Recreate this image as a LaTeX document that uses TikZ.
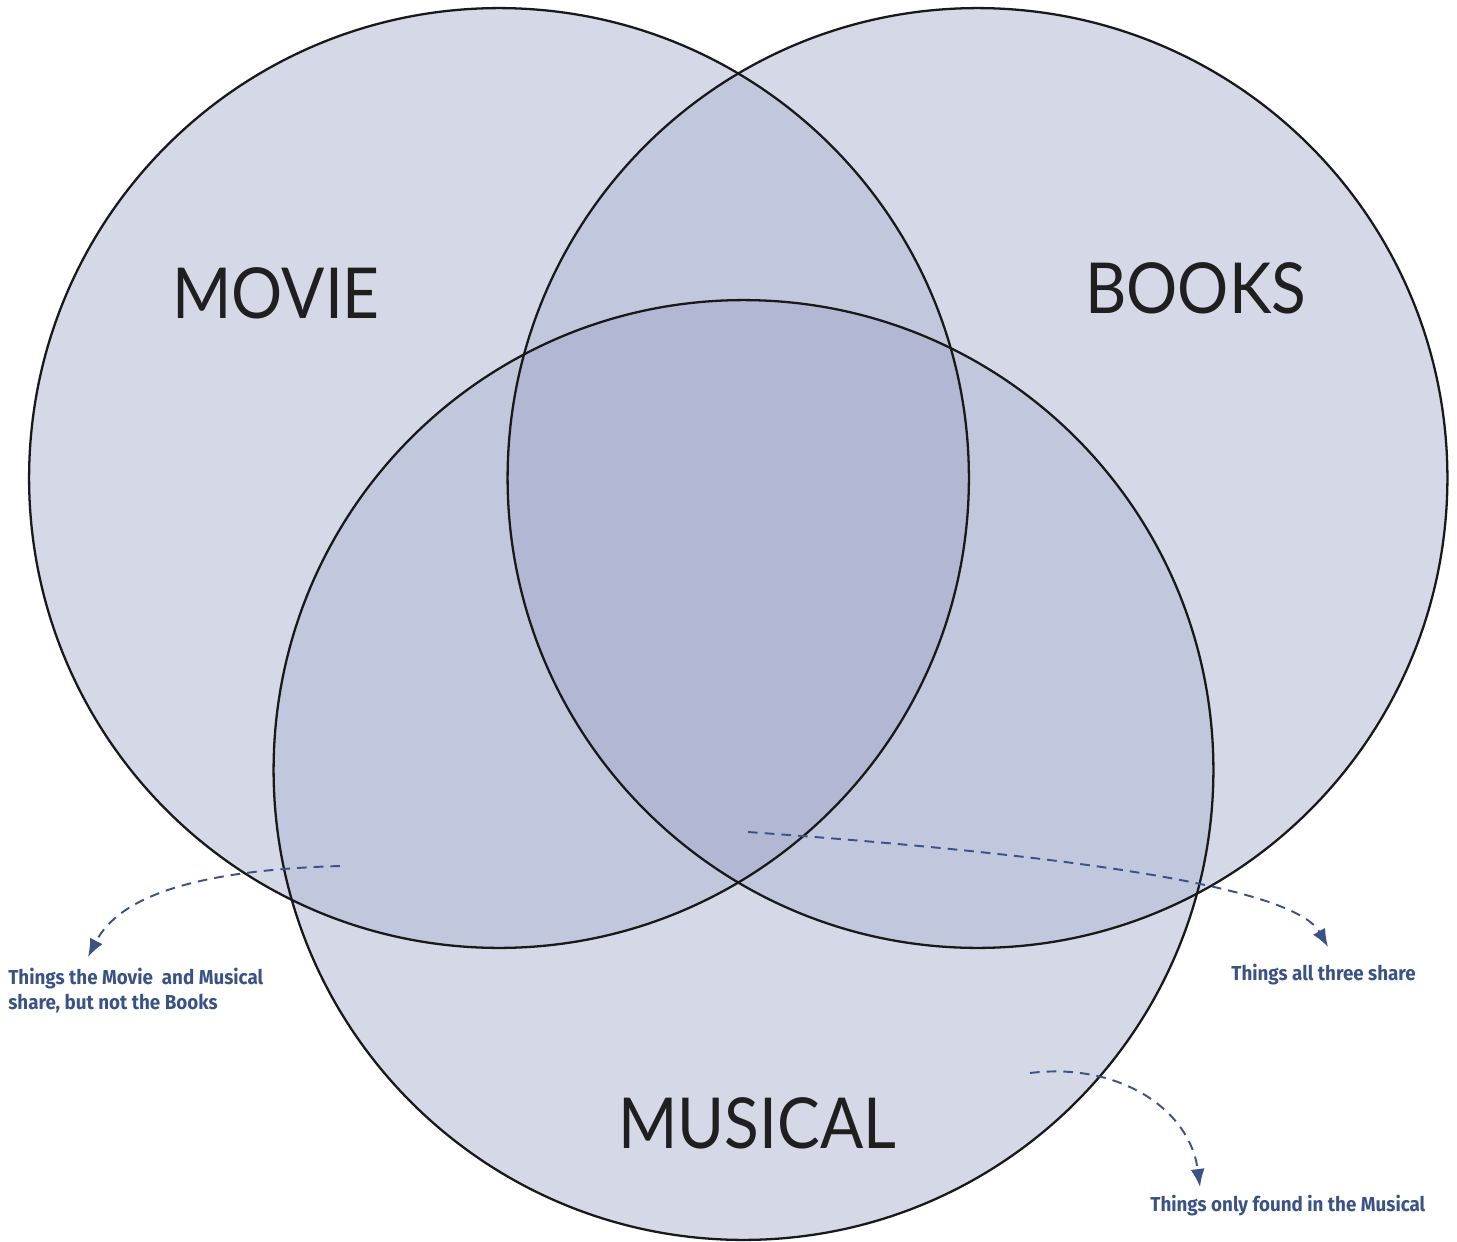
\documentclass[tikz,border=0pt]{standalone}
\usepackage{fontspec}
\setmainfont[FakeStretch=0.93]{Fira Sans}
\newfontfamily\titlefont[FakeStretch=0.91]{Lato}
\usetikzlibrary{arrows.meta}

\definecolor{setfill}{HTML}{D4D8E7}
\definecolor{pairfill}{HTML}{C1C7DC}
\definecolor{allfill}{HTML}{B2B8D4}
\definecolor{notecol}{HTML}{3B5285}

\begin{document}
\begin{tikzpicture}[x = 0.02cm, y = -0.02cm,
  setname/.style = {font=\titlefont\fontsize{40}{48}\selectfont, text=black!88, inner sep=0pt},
  note/.style = {font=\bfseries\fontsize{11.5}{14.2}\selectfont, text=notecol, align=left, inner sep=0pt},
  pointer/.style = {-{Latex[length=3.6mm, width=2.8mm]}, notecol, line width=1.1pt, dash pattern=on 5.5pt off 4pt}]

\useasboundingbox (0, 0) rectangle (1457, 1241);

\coordinate (movie) at (499, 478);
\coordinate (books) at (977.5, 478);
\coordinate (musical) at (743.5, 770);

% the three sets
\fill[setfill] (movie) circle (9.4cm);
\fill[setfill] (books) circle (9.4cm);
\fill[setfill] (musical) circle (9.4cm);

% pairwise overlaps
\begin{scope}
  \clip (movie) circle (9.4cm);
  \fill[pairfill] (books) circle (9.4cm);
  \fill[pairfill] (musical) circle (9.4cm);
\end{scope}
\begin{scope}
  \clip (books) circle (9.4cm);
  \fill[pairfill] (musical) circle (9.4cm);
\end{scope}

% all three
\begin{scope}
  \clip (movie) circle (9.4cm);
  \clip (books) circle (9.4cm);
  \fill[allfill] (musical) circle (9.4cm);
\end{scope}

\draw[line width=1.3pt, black!90] (movie) circle (9.4cm);
\draw[line width=1.3pt, black!90] (books) circle (9.4cm);
\draw[line width=1.3pt, black!90] (musical) circle (9.4cm);

\node[setname, anchor=base west] (movieName) at (172, 318) {MOVIE};
\node[setname, anchor=base west] (booksName) at (1085, 313) {BOOKS};
\node[setname, anchor=base west] (musicalName) at (618, 1148) {MUSICAL};

\node[note, anchor=north west] (pairNote) at (8, 968) {Things the Movie\ \ and Musical\\share, but not the Books};
\node[note, anchor=north west] (allNote) at (1231, 964) {Things all three share};
\node[note, anchor=north west] (onlyNote) at (1150, 1195) {Things only found in the Musical};

\coordinate (pairFrom) at (340, 866);
\coordinate (pairTo) at (88, 957);
\coordinate (allFrom) at (748, 832);
\coordinate (allTo) at (1328, 947);
\coordinate (onlyFrom) at (1030, 1073);
\coordinate (onlyTo) at (1200, 1187);

\draw[pointer] (pairFrom) .. controls (200, 870) and (120, 895) .. (pairTo);
\draw[pointer] (allFrom) .. controls (1000, 850) and (1290, 880) .. (allTo);
\draw[pointer] (onlyFrom) .. controls (1120, 1062) and (1190, 1110) .. (onlyTo);
\end{tikzpicture}
\end{document}
